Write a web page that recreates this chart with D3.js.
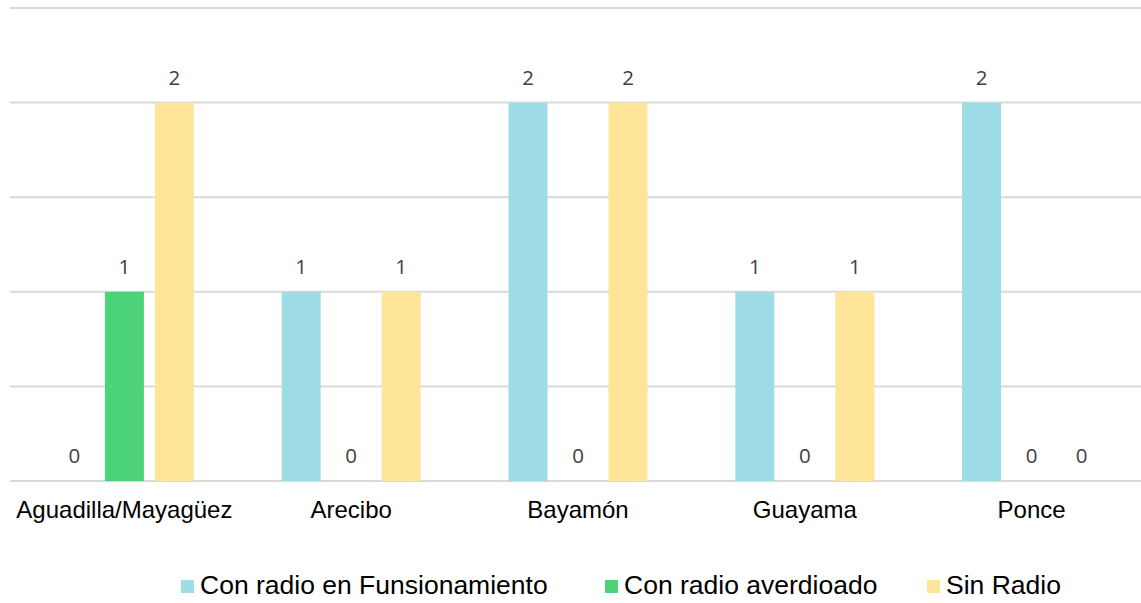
<!DOCTYPE html>
<html><head><meta charset="utf-8">
<script src="https://cdn.jsdelivr.net/npm/d3@7"></script>
<style>body{margin:0;background:#fff;}</style>
</head><body>
<svg id="c" width="1141" height="603"></svg>
<script>
const categories = ["Aguadilla/Mayagüez","Arecibo","Bayamón","Guayama","Ponce"];
const seriesNames = ["Con radio en Funsionamiento","Con radio averdioado","Sin Radio"];
const funcionando = [0,1,2,1,2];
const averiado = [1,0,0,0,0];
const sinRadio = [2,1,2,1,0];
const yTicks = [0,0.5,1,1.5,2,2.5];
const colors = ["#9fdde6","#4cd37a","#fee599"];

const series = [funcionando, averiado, sinRadio];
const svg = d3.select("#c");
const x = d3.scaleBand().domain(categories).range([11,1145]);
const y = d3.scaleLinear().domain([0,2.5]).range([481,8]);
const inner = d3.scaleLinear().domain([0,2]).range([-50,50]);
const bw = 39;

svg.append("g").selectAll("line").data(yTicks).join("line")
  .attr("x1",10).attr("x2",1141)
  .attr("y1",d=>y(d)).attr("y2",d=>y(d))
  .attr("stroke","#d9d9d9").attr("stroke-width",2);

series.forEach((vals,si)=>{
  const g = svg.append("g");
  categories.forEach((c,ci)=>{
    const cx = x(c)+x.bandwidth()/2+inner(si);
    const v = vals[ci];
    if(v>0){
      g.append("rect").attr("x",cx-bw/2).attr("width",bw)
        .attr("y",y(v)).attr("height",y(0)-y(v)).attr("fill",colors[si]);
    }
    g.append("text").attr("x",cx).attr("y",y(v)-18)
      .attr("text-anchor","middle").attr("font-family","'Open Sans', Lato, sans-serif")
      .attr("font-size",20.5).attr("fill","#404040").text(v);
  });
});

svg.append("g").selectAll("text").data(categories).join("text")
  .attr("x",d=>x(d)+x.bandwidth()/2).attr("y",518)
  .attr("text-anchor","middle").attr("font-family","'Liberation Sans', Arial, sans-serif")
  .attr("font-size",24).attr("fill","#000").text(d=>d);

const legX = [181,605,927];
const lg = svg.append("g");
seriesNames.forEach((n,i)=>{
  lg.append("rect").attr("x",legX[i]).attr("y",580).attr("width",13).attr("height",13).attr("fill",colors[i]);
  lg.append("text").attr("x",legX[i]+19).attr("y",594)
    .attr("font-family","'Liberation Sans', Arial, sans-serif").attr("font-size",26.5).attr("fill","#000").text(n);
});
</script>
</body></html>
